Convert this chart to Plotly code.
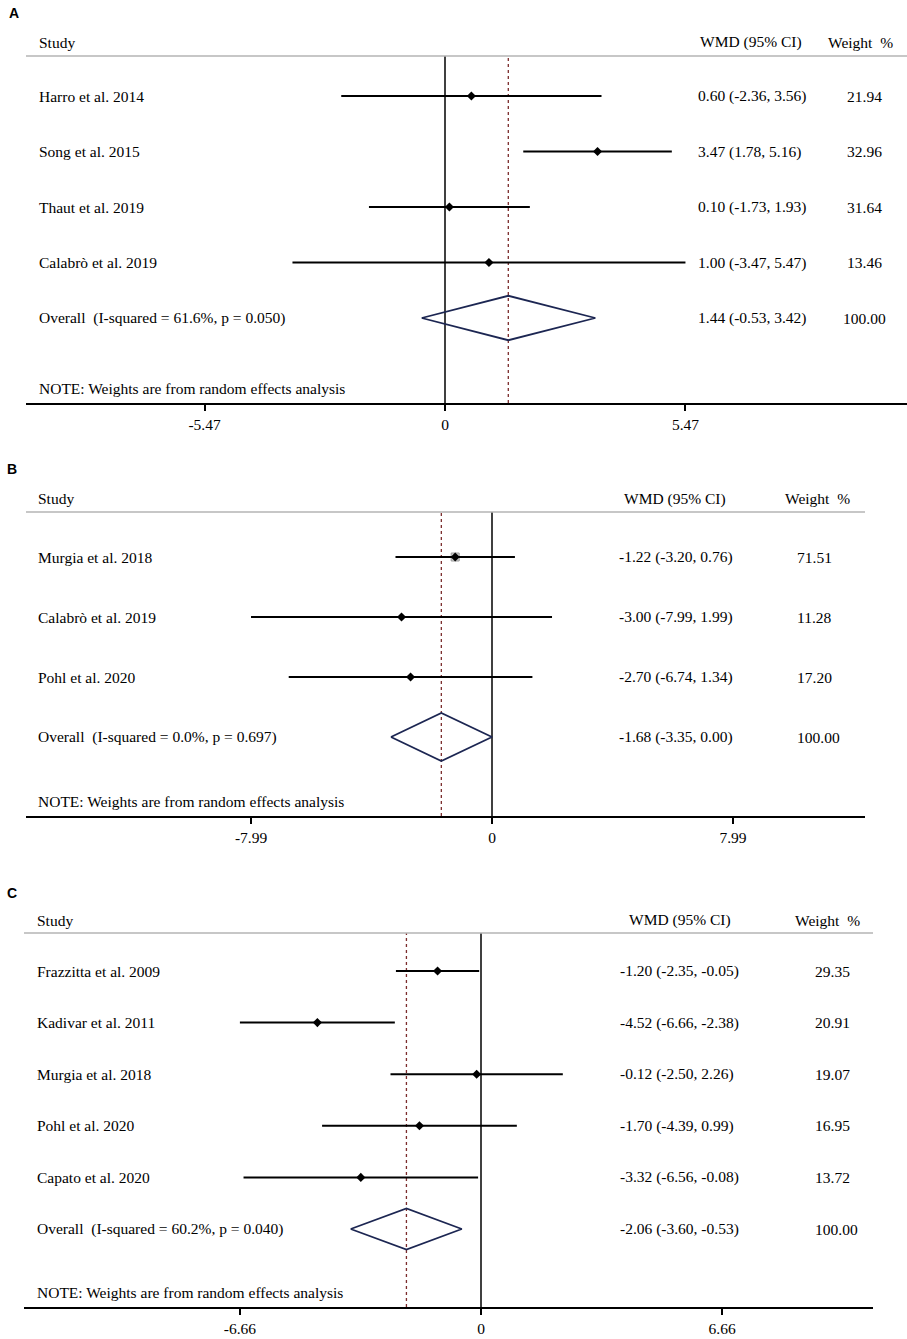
import plotly.graph_objects as go

W, H = 907, 1339

# --- Pannello A ---
studi_a = ["Harro et al. 2014", "Song et al. 2015", "Thaut et al. 2019", "Calabrò et al. 2019"]
wmd_a = [0.60, 3.47, 0.10, 1.00]
lo_a = [-2.36, 1.78, -1.73, -3.47]
hi_a = [3.56, 5.16, 1.93, 5.47]
peso_a = [21.94, 32.96, 31.64, 13.46]
tot_a = [1.44, -0.53, 3.42, 100.00]   # stima, lo, hi, peso
het_a = [61.6, 0.050]                 # I-squared, p
tick_a = 5.47

# --- Pannello B ---
studi_b = ["Murgia et al. 2018", "Calabrò et al. 2019", "Pohl et al. 2020"]
wmd_b = [-1.22, -3.00, -2.70]
lo_b = [-3.20, -7.99, -6.74]
hi_b = [0.76, 1.99, 1.34]
peso_b = [71.51, 11.28, 17.20]
tot_b = [-1.68, -3.35, 0.00, 100.00]
het_b = [0.0, 0.697]
tick_b = 7.99

# --- Pannello C ---
studi_c = ["Frazzitta et al. 2009", "Kadivar et al. 2011", "Murgia et al. 2018",
           "Pohl et al. 2020", "Capato et al. 2020"]
wmd_c = [-1.20, -4.52, -0.12, -1.70, -3.32]
lo_c = [-2.35, -6.66, -2.50, -4.39, -6.56]
hi_c = [-0.05, -2.38, 2.26, 0.99, -0.08]
peso_c = [29.35, 20.91, 19.07, 16.95, 13.72]
tot_c = [-2.06, -3.60, -0.53, 100.00]
het_c = [60.2, 0.040]
tick_c = 6.66

SERIF = "Liberation Serif"
FS = 15.5

# geometria dei pannelli (pixel)
pannelli = [
    dict(lab="A", studi=studi_a, wmd=wmd_a, lo=lo_a, hi=hi_a, peso=peso_a, tot=tot_a, het=het_a, tick=tick_a,
         left=26, right=907, zero=445, k=43.96, y_head=42, y_line=56, row1=96, step=55.5, y_axis=403,
         y_note=388, lab_xy=(14, 13), x_st=37, x_wmd=696, x_wmd_h=698, x_w=864, w_anchor="center", x_w_h=826),
    dict(lab="B", studi=studi_b, wmd=wmd_b, lo=lo_b, hi=hi_b, peso=peso_b, tot=tot_b, het=het_b, tick=tick_b,
         left=26, right=865, zero=492, k=30.16, y_head=499, y_line=512, row1=557, step=60, y_axis=816,
         y_note=801, lab_xy=(12, 469), x_st=36, x_wmd=617, x_wmd_h=622, x_w=795, w_anchor="left", x_w_h=783),
    dict(lab="C", studi=studi_c, wmd=wmd_c, lo=lo_c, hi=hi_c, peso=peso_c, tot=tot_c, het=het_c, tick=tick_c,
         left=24, right=873, zero=481, k=36.2, y_head=920, y_line=933, row1=971, step=51.6, y_axis=1307,
         y_note=1292, lab_xy=(12, 893), x_st=35, x_wmd=618, x_wmd_h=627, x_w=813, w_anchor="left", x_w_h=793),
]

fig = go.Figure()
shapes, annots = [], []


def px_x(p):
    return p / W


def px_y(p):
    return 1 - p / H


def txt(x, y, s, anchor="left", yref="paper", size=FS, family=SERIF, bold=False):
    annots.append(dict(x=x, y=y, xref="paper", yref=yref, text=f"<b>{s}</b>" if bold else s,
                       showarrow=False, xanchor=anchor, yanchor="middle",
                       font=dict(family=family, size=size, color="black")))


for i, p in enumerate(pannelli):
    n = i + 1
    xa = "x" if n == 1 else f"x{n}"
    ya = "y" if n == 1 else f"y{n}"
    ka = "xaxis" if n == 1 else f"xaxis{n}"
    kb = "yaxis" if n == 1 else f"yaxis{n}"
    righe = list(range(1, len(p["studi"]) + 1))
    riga_tot = len(p["studi"]) + 1

    # assi
    fig.layout[ka] = dict(
        domain=[px_x(p["left"]), px_x(p["right"])],
        range=[(p["left"] - p["zero"]) / p["k"], (p["right"] - p["zero"]) / p["k"]],
        anchor=ya, showgrid=False, zeroline=False, showline=True, linewidth=2, linecolor="black",
        ticks="outside", ticklen=6, tickwidth=1.5, tickcolor="black",
        tickvals=[-p["tick"], 0, p["tick"]],
        ticktext=[f"{-p['tick']:.2f}", "0", f"{p['tick']:.2f}"],
        tickfont=dict(family=SERIF, size=FS, color="black"), fixedrange=True,
    )
    fig.layout[kb] = dict(
        domain=[px_y(p["y_axis"]), px_y(p["y_line"])],
        range=[1 + (p["y_axis"] - p["row1"]) / p["step"], 1 - (p["row1"] - p["y_line"]) / p["step"]],
        anchor=xa, visible=False, fixedrange=True,
    )

    # linea dello zero e linea tratteggiata della stima complessiva
    shapes.append(dict(type="line", xref=xa, yref=f"{ya} domain", x0=0, x1=0, y0=0, y1=1,
                       line=dict(color="black", width=1.5), layer="below"))
    shapes.append(dict(type="line", xref=xa, yref=f"{ya} domain", x0=p["tot"][0], x1=p["tot"][0], y0=0, y1=1,
                       line=dict(color="#7b2c2c", width=1.3, dash="3px,3px"), layer="below"))
    # linea grigia sotto l'intestazione
    shapes.append(dict(type="line", xref=f"{xa} domain", yref=f"{ya} domain", x0=0, x1=1, y0=1, y1=1,
                       line=dict(color="#b4b4b4", width=1.5)))

    # box del peso (visibile solo per lo studio con peso maggiore nel pannello B)
    if p["lab"] == "B":
        fig.add_trace(go.Scatter(x=[p["wmd"][0]], y=[righe[0]], xaxis=xa, yaxis=ya, mode="markers",
                                 marker=dict(symbol="square", size=8, color="#cfcfcf",
                                             line=dict(color="#9a9a9a", width=1)),
                                 hoverinfo="skip", showlegend=False))

    # intervalli di confidenza e stime puntuali
    fig.add_trace(go.Scatter(
        x=p["wmd"], y=righe, xaxis=xa, yaxis=ya, mode="markers",
        marker=dict(symbol="diamond", size=7, color="black"),
        error_x=dict(type="data", symmetric=False,
                     array=[h - e for h, e in zip(p["hi"], p["wmd"])],
                     arrayminus=[e - l for e, l in zip(p["wmd"], p["lo"])],
                     width=0, thickness=2, color="black"),
        showlegend=False, hoverinfo="skip"))

    # rombo della stima complessiva
    e, l, h, wt = p["tot"]
    fig.add_trace(go.Scatter(
        x=[l, e, h, e, l], y=[riga_tot, riga_tot - 0.4, riga_tot, riga_tot + 0.4, riga_tot],
        xaxis=xa, yaxis=ya, mode="lines", line=dict(color="#1c2652", width=1.8),
        showlegend=False, hoverinfo="skip"))

    # testi
    txt(px_x(p["lab_xy"][0]), px_y(p["lab_xy"][1]), p["lab"], anchor="center",
        size=14, family="Liberation Sans", bold=True)
    txt(px_x(p["x_st"]), px_y(p["y_head"]), "Study")
    txt(px_x(p["x_wmd_h"]), px_y(p["y_head"]), "WMD (95% CI)")
    txt(px_x(p["x_w_h"]), px_y(p["y_head"]), "Weight&nbsp; %")
    for r, s, w, lo, hi, pw in zip(righe, p["studi"], p["wmd"], p["lo"], p["hi"], p["peso"]):
        txt(px_x(p["x_st"]), r, s, yref=ya)
        txt(px_x(p["x_wmd"]), r, f"{w:.2f} ({lo:.2f}, {hi:.2f})", yref=ya)
        txt(px_x(p["x_w"]), r, f"{pw:.2f}", anchor=p["w_anchor"], yref=ya)
    txt(px_x(p["x_st"]), riga_tot,
        f"Overall&nbsp; (I-squared = {p['het'][0]:.1f}%, p = {p['het'][1]:.3f})", yref=ya)
    txt(px_x(p["x_wmd"]), riga_tot, f"{e:.2f} ({l:.2f}, {h:.2f})", yref=ya)
    txt(px_x(p["x_w"]), riga_tot, f"{wt:.2f}", anchor=p["w_anchor"], yref=ya)
    txt(px_x(p["x_st"]), px_y(p["y_note"]), "NOTE: Weights are from random effects analysis")

fig.update_layout(
    width=W, height=H, margin=dict(l=0, r=0, t=0, b=0),
    paper_bgcolor="white", plot_bgcolor="white",
    shapes=shapes, annotations=annots, showlegend=False,
)

# niente margine del body e niente modebar
fig.write_html("out.html", config={"displayModeBar": False},
               post_script="document.body.style.margin='0';")
